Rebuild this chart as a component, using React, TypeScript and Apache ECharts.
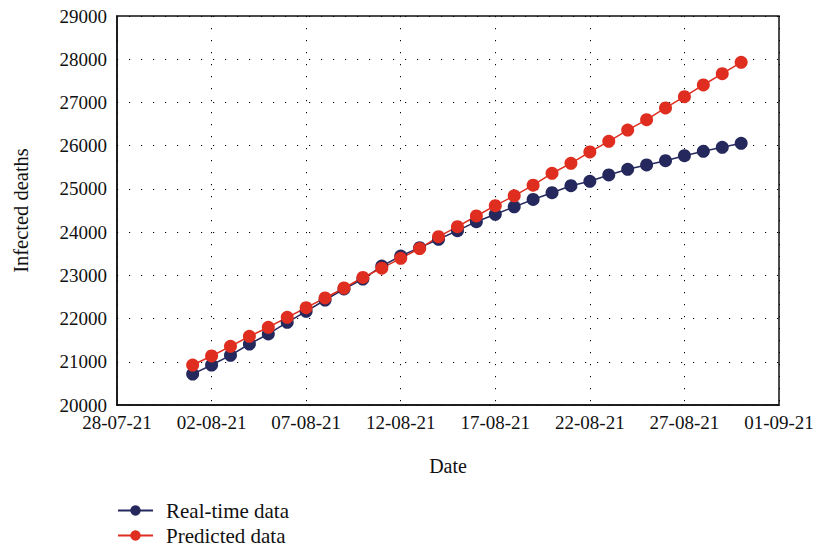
import React, { useEffect, useRef } from "react";
import * as echarts from "echarts";

const dates: string[] = [
  "01-08-21", "02-08-21", "03-08-21", "04-08-21", "05-08-21", "06-08-21", "07-08-21", "08-08-21", "09-08-21", "10-08-21",
  "11-08-21", "12-08-21", "13-08-21", "14-08-21", "15-08-21", "16-08-21", "17-08-21", "18-08-21", "19-08-21", "20-08-21",
  "21-08-21", "22-08-21", "23-08-21", "24-08-21", "25-08-21", "26-08-21", "27-08-21", "28-08-21", "29-08-21", "30-08-21",
];

const realTime: number[] = [
  20715, 20925, 21150, 21411, 21643, 21913, 22168, 22429, 22684, 22915,
  23215, 23447, 23640, 23834, 24033, 24241, 24412, 24585, 24755, 24912,
  25074, 25176, 25322, 25453, 25553, 25653, 25768, 25870, 25962, 26055,
];

const predicted: number[] = [
  20925, 21134, 21358, 21590, 21798, 22029, 22251, 22476, 22707, 22950,
  23165, 23394, 23620, 23895, 24126, 24373, 24612, 24840, 25087, 25361,
  25592, 25855, 26100, 26360, 26602, 26872, 27133, 27404, 27666, 27929,
];

const xTickLabels: string[] = [
  "28-07-21", "02-08-21", "07-08-21", "12-08-21", "17-08-21", "22-08-21", "27-08-21", "01-09-21",
];

const yTicks: number[] = [20000, 21000, 22000, 23000, 24000, 25000, 26000, 27000, 28000, 29000];

const DAY = 86400000;
function parseDate(s: string): number {
  const [d, m, y] = s.split("-").map(Number);
  return Date.UTC(2000 + y, m - 1, d);
}
const origin = parseDate(xTickLabels[0]);
const dayIndex = (s: string) => Math.round((parseDate(s) - origin) / DAY);

const FONT = "Liberation Serif, serif";
const BLUE = "#25285c";
const RED = "#df2e1f";
const TXT = "#111";

export default function App() {
  const ref = useRef<HTMLDivElement>(null);
  useEffect(() => {
    if (!ref.current) return;
    const chart = echarts.init(ref.current, undefined, { renderer: "svg" });
    const span = dayIndex(xTickLabels[xTickLabels.length - 1]);
    const step = dayIndex(xTickLabels[1]);
    const gridLine = { show: true, lineStyle: { color: "#000", width: 1, type: [1.2, 10.8] as any } };
    chart.setOption({
      animation: false,
      backgroundColor: "#fff",
      textStyle: { fontFamily: FONT },
      grid: {
        left: 117, right: 42, top: 16, bottom: 144, containLabel: false,
        show: true, borderColor: "#111", borderWidth: 1.5,
      },
      legend: {
        orient: "vertical",
        left: 117,
        top: 500,
        padding: 0,
        itemWidth: 35,
        itemHeight: 13,
        itemGap: 4,
        textStyle: { fontFamily: FONT, fontSize: 21, lineHeight: 21, color: TXT, padding: [0, 0, 0, 8] },
        data: ["Real-time data", "Predicted data"],
      },
      xAxis: {
        type: "value",
        min: 0,
        max: span,
        interval: step,
        name: "Date",
        nameLocation: "middle",
        nameGap: 51,
        nameTextStyle: { fontFamily: FONT, fontSize: 20, color: TXT },
        axisLine: { show: true, lineStyle: { color: "#111", width: 1.5 } },
        axisTick: { show: false },
        axisLabel: {
          fontFamily: FONT, fontSize: 19, color: TXT, margin: 8,
          formatter: (v: number) => xTickLabels[Math.round(v / step)] ?? "",
        },
        splitLine: gridLine,
      },
      yAxis: {
        type: "value",
        min: yTicks[0],
        max: yTicks[yTicks.length - 1],
        interval: yTicks[1] - yTicks[0],
        name: "Infected deaths",
        nameLocation: "middle",
        nameGap: 86,
        nameTextStyle: { fontFamily: FONT, fontSize: 20.5, color: TXT },
        axisLine: { show: true, lineStyle: { color: "#111", width: 1.5 } },
        axisTick: { show: false },
        axisLabel: { fontFamily: FONT, fontSize: 19, color: TXT, margin: 10, formatter: (v: number) => String(v) },
        splitLine: gridLine,
      },
      series: [
        {
          name: "Real-time data",
          type: "line",
          data: dates.map((d, i) => [dayIndex(d), realTime[i]]),
          symbol: "circle",
          symbolSize: 13,
          itemStyle: { color: BLUE },
          lineStyle: { color: BLUE, width: 1.5 },
        },
        {
          name: "Predicted data",
          type: "line",
          data: dates.map((d, i) => [dayIndex(d), predicted[i]]),
          symbol: "circle",
          symbolSize: 13,
          itemStyle: { color: RED },
          lineStyle: { color: RED, width: 1.5 },
        },
      ],
    });
    return () => chart.dispose();
  }, []);
  return <div ref={ref} style={{ width: 821, height: 549, position: "absolute", left: 0, top: 0 }} />;
}
